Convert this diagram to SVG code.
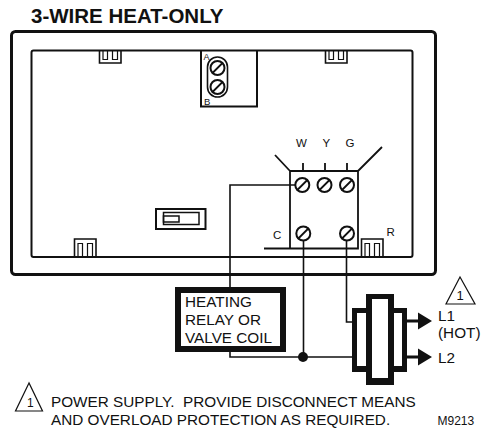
<svg xmlns="http://www.w3.org/2000/svg" width="482" height="431" viewBox="0 0 482 431">
<style>
text{font-family:"Liberation Sans",Arial,sans-serif;fill:#111}
.l{fill:none;stroke:#111;stroke-width:1.6}
.t{fill:none;stroke:#111;stroke-width:1.2}
.m{font-size:15.300px;white-space:pre}
.s{font-size:11.500px}
.scr{fill:#fff;stroke:#111;stroke-width:2}
.k{fill:#111}
.w{fill:#fff}
</style>
<defs>
<g id="screw"><circle class="scr" r="7"/><line x1="-5.500" y1="5.500" x2="5.500" y2="-5.500" stroke="#111" stroke-width="1.800"/></g>
<g id="tab"><path class="l" d="M0 18V0H21.500V18"/><path class="t" d="M3.500 18V4.500H8V18M13 18V4.500H18V18"/></g>
<g id="toptab"><path class="l" d="M0 0V12H21.500V0"/><path class="t" d="M3.500 0V8.500H8V0M13 0V8.500H18V0"/></g>
</defs>
<rect width="482" height="431" fill="#fff"/>
<text id="title" x="31" y="23" font-size="20.500" font-weight="700">3-WIRE HEAT-ONLY</text>
<g id="thermostat-body">
<rect x="11.500" y="31.500" width="424" height="243" rx="4" fill="none" stroke="#111" stroke-width="3"/>
<rect x="31.500" y="50.500" width="381" height="206.500" rx="2" fill="none" stroke="#111" stroke-width="2"/>
</g>
<g id="tabs">
<use href="#toptab" x="99.500" y="51"/>
<use href="#toptab" x="325.500" y="51"/>
<use href="#tab" x="74.500" y="239"/>
<use href="#tab" x="361.500" y="239"/>
</g>
<g id="ab-adjuster">
<path d="M201 51V106.500H257V51" fill="none" stroke="#111" stroke-width="2"/>
<rect x="207.500" y="57" width="20" height="40" rx="10" fill="#fff" stroke="#111" stroke-width="1.600"/>
<use href="#screw" x="217.500" y="68"/>
<use href="#screw" x="217.500" y="87"/>
<text x="203.500" y="60" font-size="9">A</text>
<text x="204" y="105" font-size="9.500">B</text>
</g>
<g id="slide-switch">
<rect x="156" y="209" width="49.500" height="20" fill="none" stroke="#111" stroke-width="2"/>
<rect x="163.500" y="212.500" width="35.500" height="12" fill="none" stroke="#111" stroke-width="1.500"/>
<rect x="163.500" y="216" width="15.500" height="6" fill="none" stroke="#111" stroke-width="1.500"/>
</g>
<g id="terminal-block">
<path d="M290 171H358V248.500H264M290 171V248.500M290 171L275 155M358 171L382 147M303 171V163M325 171V163M347 171V163" fill="none" stroke="#111" stroke-width="1.800"/>
<use href="#screw" x="302.300" y="185"/>
<use href="#screw" x="324.500" y="185"/>
<use href="#screw" x="347" y="185"/>
<use href="#screw" x="303.300" y="233.500"/>
<use href="#screw" x="347" y="233.500"/>
<text class="s" x="296" y="147">W</text>
<text class="s" x="322.500" y="147">Y</text>
<text class="s" x="345.500" y="147">G</text>
<text class="s" x="273" y="238.500">C</text>
<text class="s" x="386.500" y="236">R</text>
</g>
<g id="connectors">
<path class="l" d="M295 185H230V288M230 352V357H352M303.500 241V357M346.500 241V322H353"/>
<path d="M407 321H420M407 357H420" fill="none" stroke="#111" stroke-width="3"/>
<circle class="k" cx="303" cy="357" r="5"/>
<path class="k" d="M418 312.500L432 321L418 329.500ZM418 348.500L432 357L418 365.500Z"/>
</g>
<g id="relay">
<rect x="178" y="290" width="105" height="59" fill="#fff" stroke="#111" stroke-width="6"/>
<text class="m" x="185" y="307">HEATING</text>
<text class="m" x="185" y="325">RELAY OR</text>
<text class="m" x="185" y="343">VALVE COIL</text>
</g>
<g id="transformer">
<rect class="k" x="352" y="308" width="55" height="64"/>
<rect class="w" x="357" y="313" width="45" height="53"/>
<rect class="k" x="366" y="294" width="28" height="91"/>
<rect class="w" x="372" y="299" width="16" height="79"/>
</g>
<g id="supply-labels">
<path class="t" d="M460 277L446 304H475Z"/>
<text x="456.500" y="300" font-size="13">1</text>
<text class="m" x="438" y="321">L1</text>
<text class="m" x="438" y="338">(HOT)</text>
<text class="m" x="438" y="362.500">L2</text>
</g>
<g id="note">
<path class="t" d="M29 383L15.500 411H42.500Z"/>
<text x="27" y="407" font-size="12">1</text>
<text class="m" x="51" y="407">POWER SUPPLY.  PROVIDE DISCONNECT MEANS</text>
<text class="m" x="51" y="425">AND OVERLOAD PROTECTION AS REQUIRED.</text>
<text x="437.500" y="425" font-size="12">M9213</text>
</g>
</svg>
